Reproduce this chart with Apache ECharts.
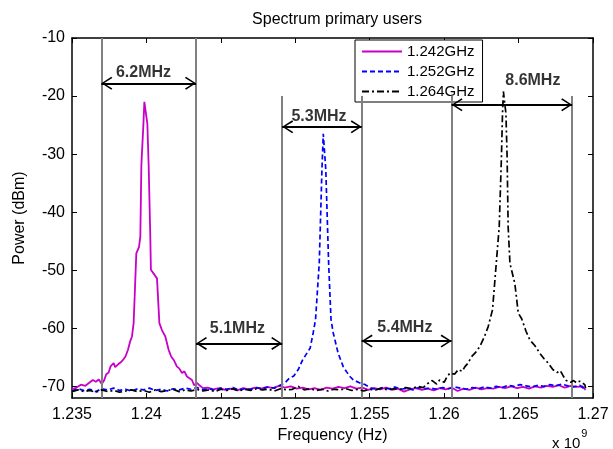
<!DOCTYPE html>
<html>
<head>
<meta charset="utf-8">
<script src="https://cdn.jsdelivr.net/npm/echarts@6/dist/echarts.min.js"></script>
<style>
    html, body {margin: 0; padding: 0; background: #fff;}
    #chart {width: 613px; height: 449px;}
</style>
</head>
<body>
<div id="chart"></div>
<script>
/*
 * 数据
 * */
var xTicks = [1.235, 1.24, 1.245, 1.25, 1.255, 1.26, 1.265, 1.27];
var yTicks = [-70, -60, -50, -40, -30, -20, -10];

// 1.242GHz
var magFreq = [1.2350, 1.2353, 1.2356, 1.2359, 1.2362, 1.2364, 1.2366, 1.2368, 1.2370, 1.23715, 1.2373, 1.23746,
    1.2376, 1.2378, 1.2379, 1.2381, 1.2383, 1.23847, 1.2386, 1.23876, 1.2389, 1.23903, 1.23914, 1.23921, 1.23932,
    1.2395, 1.23959, 1.23966, 1.2398, 1.23986, 1.23997, 1.24006, 1.24015, 1.24026, 1.2403, 1.24071, 1.24087,
    1.24104, 1.24127, 1.24149, 1.24167, 1.24185, 1.24205, 1.2422, 1.24239, 1.24255, 1.24272, 1.24306, 1.2432,
    1.24339, 1.2436, 1.2438,
    1.2441, 1.2445, 1.2449, 1.2453, 1.2457, 1.2461, 1.2465, 1.2469, 1.2473, 1.2477, 1.2481, 1.2485, 1.2489,
    1.2493, 1.2497, 1.2501, 1.2505, 1.2509, 1.2513, 1.2517, 1.2521, 1.2525, 1.2529, 1.2533, 1.2537, 1.2541,
    1.2545, 1.2549, 1.2553, 1.2557, 1.2561, 1.2565, 1.2569, 1.2573, 1.2577, 1.2581, 1.2585, 1.2589, 1.2593,
    1.2597, 1.2601, 1.2605, 1.2609, 1.2613, 1.2617, 1.2621, 1.2625, 1.2629, 1.2633, 1.2637, 1.2641, 1.2645,
    1.2649, 1.2653, 1.2657, 1.2661, 1.2665, 1.2669, 1.2673, 1.2677, 1.2681, 1.2685, 1.2689, 1.2693, 1.2695];
var magPower = [-70.5, -70.2, -69.7, -69.9, -69.3, -68.9, -69.2, -68.8, -69.6, -69.0, -67.9, -67.6,
    -66.5, -66.0, -66.7, -66.2, -65.8, -65.3, -64.8, -63.7, -62.3, -61.4, -59.1, -54.5, -47.1,
    -46.0, -44.2, -31.9, -24.7, -21.0, -21.0, -24.7, -31.9, -44.2, -49.9, -51.4, -59.1,
    -60.3, -61.4, -63.7, -64.9, -65.5, -66.6, -66.9, -67.7, -67.4, -68.3, -68.9, -69.8,
    -69.4, -69.9, -70.3,
    -70.2, -70.5, -70.3, -70.6, -70.4, -70.7, -70.3, -70.5, -70.2, -70.4, -70.1, -70.3, -69.9,
    -70.2, -70.0, -70.4, -70.2, -70.5, -70.3, -70.6, -70.2, -70.4, -70.1, -70.3, -70.0, -70.4,
    -70.2, -70.6, -70.3, -70.5, -70.2, -70.6, -70.4, -70.9, -70.5, -70.3, -70.6, -70.4, -70.7,
    -70.3, -70.5, -70.2, -70.8, -70.4, -70.6, -70.2, -70.5, -70.3, -70.4, -70.1, -70.3, -70.0,
    -70.3, -70.1, -70.4, -70.0, -70.2, -69.9, -70.1, -69.8, -70.2, -69.9, -70.1, -70.0, -70.6];

// 1.252GHz
var blueFreq = [1.2350, 1.2354, 1.2358, 1.2362, 1.2366, 1.2370, 1.2374, 1.2378, 1.2382, 1.2386, 1.2390, 1.2394,
    1.2398, 1.2402, 1.2406, 1.2410, 1.2414, 1.2418, 1.2422, 1.2426, 1.2430, 1.2434, 1.2438, 1.2442, 1.2446,
    1.2450, 1.2454, 1.2458, 1.2462, 1.2466, 1.2470, 1.2474, 1.2478, 1.2482, 1.2486,
    1.2489, 1.2493, 1.2496, 1.2499, 1.2502, 1.2505, 1.2508, 1.2510, 1.2512, 1.25136, 1.25161, 1.25179,
    1.25188, 1.25195, 1.25205, 1.25224, 1.2524, 1.25255, 1.25288, 1.25322, 1.25345, 1.25367, 1.2539,
    1.25434, 1.2547,
    1.2551, 1.2555, 1.2559, 1.2563, 1.2567, 1.2571, 1.2575, 1.2579, 1.2583, 1.2587, 1.2591, 1.2595, 1.2599,
    1.2603, 1.2607, 1.2611, 1.2615, 1.2619, 1.2623, 1.2627, 1.2631, 1.2635, 1.2639, 1.2643, 1.2647, 1.2651,
    1.2655, 1.2659, 1.2663, 1.2667, 1.2671, 1.2675, 1.2679, 1.2683, 1.2687, 1.2691, 1.2695];
var bluePower = [-70.8, -70.4, -70.7, -70.5, -70.9, -70.4, -70.6, -70.3, -70.7, -70.5, -70.8, -70.4,
    -70.6, -70.3, -70.7, -70.5, -70.8, -70.4, -70.6, -70.3, -70.5, -70.2, -70.6, -70.4, -70.7,
    -70.3, -70.5, -70.2, -70.6, -70.4, -70.5, -70.2, -70.4, -70.1, -70.3,
    -69.9, -69.4, -68.6, -68.2, -67.1, -65.4, -64.2, -63.4, -60.8, -58.5, -48.8, -32.7,
    -26.5, -26.5, -32.7, -48.8, -58.5, -60.8, -64.3, -66.6, -67.5, -68.3, -68.9,
    -69.4, -69.7,
    -70.3, -70.5, -70.2, -70.4, -70.1, -70.5, -70.3, -70.6, -70.2, -70.4, -70.3, -70.5, -70.2,
    -70.4, -70.1, -70.3, -70.5, -70.2, -70.4, -70.1, -70.3, -70.0, -70.2, -69.8, -70.0, -69.7,
    -69.9, -70.1, -69.8, -70.0, -69.7, -69.9, -69.6, -69.9, -70.1, -69.8, -70.6];

// 1.264GHz
var blackFreq = [1.2350, 1.2354, 1.2358, 1.2362, 1.2366, 1.2370, 1.2374, 1.2378, 1.2382, 1.2386, 1.2390, 1.2394,
    1.2398, 1.2402, 1.2406, 1.2410, 1.2414, 1.2418, 1.2422, 1.2426, 1.2430, 1.2434, 1.2438, 1.2442, 1.2446,
    1.2450, 1.2454, 1.2458, 1.2462, 1.2466, 1.2470, 1.2474, 1.2478, 1.2482, 1.2486, 1.2490, 1.2494, 1.2498,
    1.2502, 1.2506, 1.2510, 1.2514, 1.2518, 1.2522, 1.2526, 1.2530, 1.2534, 1.2538, 1.2542, 1.2546, 1.2550,
    1.2554, 1.2558, 1.2562, 1.2566, 1.2570, 1.2574, 1.2578, 1.2582, 1.2586,
    1.2589, 1.2592, 1.2595, 1.2597, 1.2600, 1.2602, 1.2604, 1.2607, 1.26095, 1.2612, 1.2614, 1.2616, 1.26184,
    1.2621, 1.2624, 1.2627, 1.26296, 1.26325, 1.26352, 1.2637, 1.26385, 1.26392, 1.26398, 1.26404, 1.26415,
    1.26423, 1.2643, 1.26442, 1.26475, 1.26498, 1.2652, 1.2655, 1.26576, 1.2661, 1.26643, 1.2667, 1.2670,
    1.2673, 1.2676, 1.2678, 1.2680, 1.2682, 1.2685, 1.2687, 1.2689, 1.2691, 1.26945, 1.2695];
var blackPower = [-70.9, -70.6, -70.9, -70.7, -71.0, -70.6, -70.9, -70.7, -71.0, -70.8, -70.6, -70.9,
    -70.7, -71.0, -70.6, -70.9, -70.7, -70.5, -70.9, -70.6, -70.8, -70.5, -70.8, -70.6, -70.9,
    -70.5, -70.7, -70.4, -70.8, -70.5, -70.7, -70.4, -70.6, -70.5, -70.8, -70.4, -70.6, -70.5,
    -70.0, -70.6, -70.4, -70.7, -70.5, -70.8, -70.5, -70.6, -70.4, -70.7, -70.5, -70.8, -70.5,
    -70.6, -70.3, -70.6, -70.4, -70.5, -70.2, -70.4, -70.0, -70.2,
    -69.5, -69.0, -69.6, -68.9, -69.3, -68.3, -67.7, -67.9, -67.1, -67.4, -66.6, -66.0, -64.9,
    -64.2, -63.1, -61.5, -59.7, -56.8, -48.2, -42.5, -30.4, -23.0, -19.2, -19.2, -23.0,
    -30.4, -42.5, -48.8, -52.3, -57.4, -58.3, -60.5, -62.0, -63.0, -64.3, -65.2, -66.0,
    -67.1, -67.6, -67.3, -68.2, -69.0, -69.3, -69.0, -69.4, -69.1, -69.7, -70.3];

// 灰色竖线: 频率, 顶端高度
var markFreq = [1.23697, 1.24333, 1.24912, 1.25446, 1.2605, 1.2686];
var markTop = [-10, -10, -20, -20, -20, -20];

// 带宽箭头
var bandText = ['6.2MHz', '5.1MHz', '5.3MHz', '5.4MHz', '8.6MHz'];
var bandFrom = [1.23697, 1.24333, 1.24912, 1.25446, 1.2605];
var bandTo = [1.24333, 1.24912, 1.25446, 1.2605, 1.2686];
var bandY = [-17.8, -62.6, -25.3, -62.2, -21.5];
var bandTextX = [1.2398, 1.24611, 1.25159, 1.25736, 1.26596];
var bandTextY = [-16.0, -60.1, -23.5, -59.8, -17.3];

var seriesNames = ['1.242GHz', '1.252GHz', '1.264GHz'];

function pairs(xs, ys) {
    var out = [];
    for (var i = 0; i < xs.length; i++) {
        out.push([xs[i], ys[i]]);
    }
    return out;
}

var fontName = '"Liberation Sans", Arial, sans-serif';
// 开口箭头, 尖端在图形中心
var arrowHead = 'path://M0,0 L7,10 L5.6,11 L0,2.6 L-5.6,11 L-7,10 Z M0,-11 L0.01,-11 L0,-10.99 Z';

var grayLines = [];
for (var i = 0; i < markFreq.length; i++) {
    grayLines.push([{coord: [markFreq[i], markTop[i]]}, {coord: [markFreq[i], -72]}]);
}
var arrows = [];
var bandLabels = [];
for (var i = 0; i < bandText.length; i++) {
    arrows.push([{coord: [bandFrom[i], bandY[i]]}, {coord: [bandTo[i], bandY[i]]}]);
    bandLabels.push({value: [bandTextX[i], bandTextY[i]], name: bandText[i]});
}

var chart = echarts.init(document.getElementById('chart'));

var tickLabelStyle = {color: '#000', fontSize: 16, fontFamily: fontName};

var option = {
    animation: false,
    backgroundColor: '#fff',
    title: {
        text: 'Spectrum primary users',
        left: 332,
        top: 7,
        textAlign: 'center',
        textStyle: {fontSize: 16, fontWeight: 'normal', color: '#000', fontFamily: fontName}
    },
    grid: {left: 72, right: 20, top: 38, bottom: 51, containLabel: false},
    legend: {
        data: seriesNames,
        orient: 'vertical',
        left: 355,
        top: 40,
        itemWidth: 40,
        itemHeight: 10,
        itemGap: 5,
        padding: [4, 8, 3, 6],
        borderColor: '#000',
        borderWidth: 1,
        backgroundColor: '#fff',
        itemStyle: {opacity: 0},
        textStyle: {fontSize: 15, color: '#000', fontFamily: fontName}
    },
    xAxis: [
        {
            type: 'value',
            min: 1.235,
            max: 1.27,
            name: 'Frequency (Hz)',
            nameLocation: 'middle',
            nameGap: 23,
            nameTextStyle: {fontSize: 16, color: '#000', fontFamily: fontName},
            axisLine: {show: true, onZero: false, lineStyle: {color: '#000', width: 1.5}},
            axisTick: {show: true, inside: true, length: 5, customValues: xTicks, lineStyle: {color: '#000'}},
            axisLabel: Object.assign({
                customValues: xTicks, margin: 9,
                formatter: function (v) { return String(+v.toFixed(3)); }
            }, tickLabelStyle),
            splitLine: {show: false}
        },
        {
            type: 'value',
            position: 'top',
            min: 1.235,
            max: 1.27,
            axisLine: {show: true, onZero: false, lineStyle: {color: '#000', width: 1.5}},
            axisTick: {show: true, inside: true, length: 5, customValues: xTicks, lineStyle: {color: '#000'}},
            axisLabel: {show: false},
            splitLine: {show: false}
        }
    ],
    yAxis: [
        {
            type: 'value',
            min: -72,
            max: -10,
            name: 'Power (dBm)',
            nameLocation: 'middle',
            nameGap: 44,
            nameTextStyle: {fontSize: 16, color: '#000', fontFamily: fontName},
            axisLine: {show: true, onZero: false, lineStyle: {color: '#000', width: 1.5}},
            axisTick: {show: true, inside: true, length: 5, customValues: yTicks, lineStyle: {color: '#000'}},
            axisLabel: Object.assign({customValues: yTicks, margin: 7}, tickLabelStyle),
            splitLine: {show: false}
        },
        {
            type: 'value',
            position: 'right',
            min: -72,
            max: -10,
            axisLine: {show: true, onZero: false, lineStyle: {color: '#000', width: 1.5}},
            axisTick: {show: true, inside: true, length: 5, customValues: yTicks, lineStyle: {color: '#000'}},
            axisLabel: {show: false},
            splitLine: {show: false}
        }
    ],
    graphic: [
        {
            type: 'text',
            left: 552,
            top: 428,
            style: {
                text: '{a|x 10}{b|9}',
                rich: {
                    a: {fontSize: 15, fontFamily: fontName, fill: '#000', padding: [8, 1, 0, 0]},
                    b: {fontSize: 11, fontFamily: fontName, fill: '#000', verticalAlign: 'top'}
                }
            }
        }
    ],
    series: [
        {
            name: seriesNames[0],
            type: 'line',
            data: pairs(magFreq, magPower),
            symbol: 'none',
            lineStyle: {color: '#c800c8', width: 1.8},
            itemStyle: {color: '#c800c8'},
            z: 3
        },
        {
            name: seriesNames[1],
            type: 'line',
            data: pairs(blueFreq, bluePower),
            symbol: 'none',
            lineStyle: {color: '#0000ff', width: 1.7, type: [5, 3]},
            itemStyle: {color: '#0000ff'},
            z: 4
        },
        {
            name: seriesNames[2],
            type: 'line',
            data: pairs(blackFreq, blackPower),
            symbol: 'none',
            lineStyle: {color: '#000', width: 1.7, type: [7, 3, 2, 3]},
            itemStyle: {color: '#000'},
            z: 5
        },
        {
            // 灰色竖线
            name: 'marks',
            type: 'line',
            data: [],
            markLine: {
                silent: true,
                symbol: ['none', 'none'],
                label: {show: false},
                lineStyle: {color: '#808080', width: 2, type: 'solid'},
                data: grayLines
            },
            z: 2
        },
        {
            // 箭头
            name: 'arrows',
            type: 'line',
            data: [],
            markLine: {
                silent: true,
                symbol: [arrowHead, arrowHead],
                symbolSize: [13, 22],
                label: {show: false},
                lineStyle: {color: '#000', width: 2, type: 'solid'},
                itemStyle: {color: '#000'},
                data: arrows
            },
            z: 6
        },
        {
            // 带宽标注
            name: 'labels',
            type: 'scatter',
            data: bandLabels,
            symbolSize: 0,
            label: {
                show: true,
                position: 'inside',
                formatter: '{b}',
                fontSize: 16,
                fontWeight: 'bold',
                color: '#000',
                fontFamily: fontName
            },
            z: 7
        }
    ]
};
chart.setOption(option);
</script>
</body>
</html>
